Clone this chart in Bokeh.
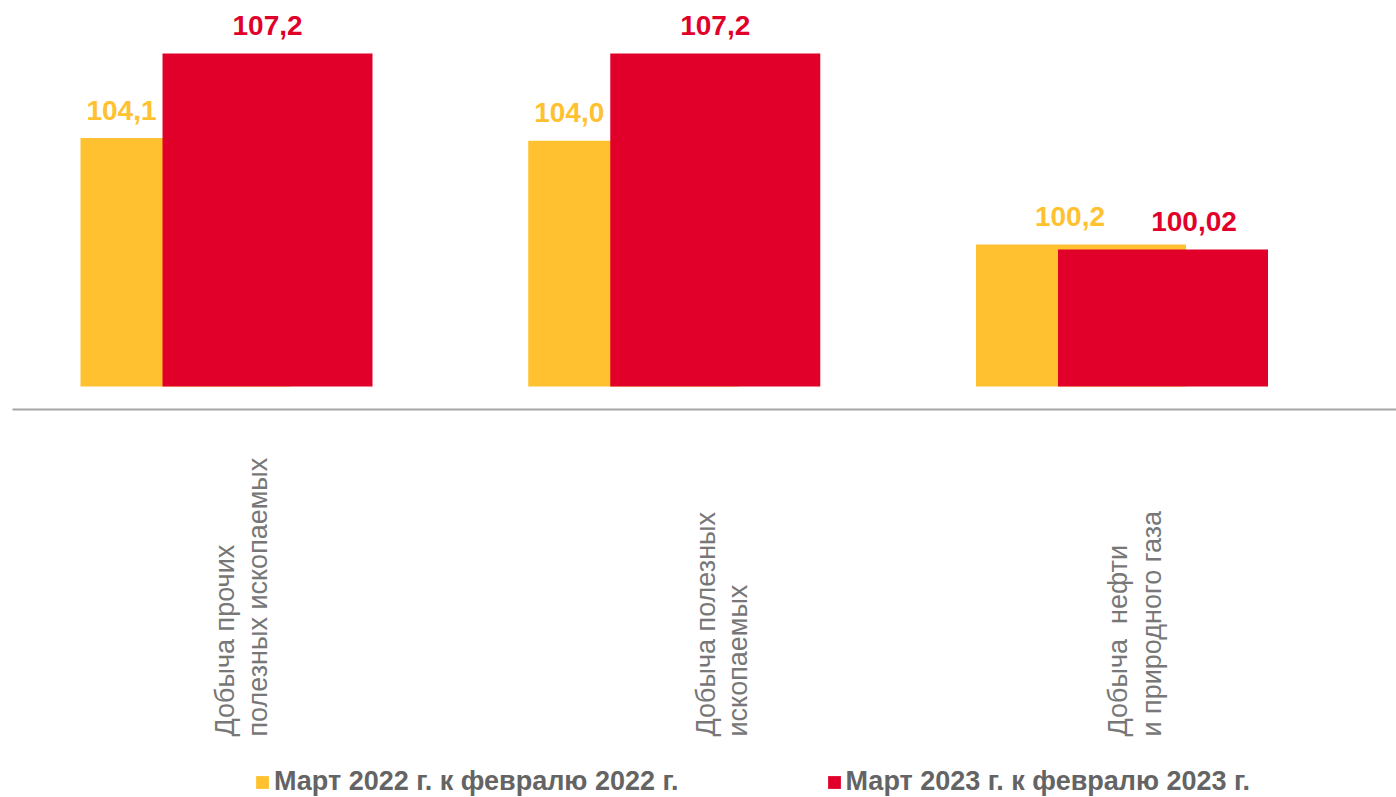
import numpy as np
from bokeh.plotting import figure
from bokeh.models import ColumnDataSource, Legend, LegendItem, Range1d
from bokeh.core.properties import value
from bokeh.embed import file_html
from bokeh.resources import INLINE

# ---------------- data ----------------
categories = [
    "Добыча прочих\nполезных ископаемых",
    "Добыча полезных\nископаемых",
    "Добыча\u00a0 нефти\nи природного газа",
]
series_names = ["Март 2022 г. к февралю 2022 г.", "Март 2023 г. к февралю 2023 г."]
values_2022 = [104.1, 104.0, 100.2]
values_2023 = [107.2, 107.2, 100.02]
labels_2022 = ["104,1", "104,0", "100,2"]
labels_2023 = ["107,2", "107,2", "100,02"]
value_axis_min = 95.0

# ---------------- style / layout ----------------
YELLOW = "#FFC12F"
RED = "#E1002A"
CAT_COLOR = "#777777"
LEG_COLOR = "#646464"
FONT = "Liberation Sans"

W, H = 1396, 797
X0, X1 = -0.50475, 2.61307
Y0, Y1 = 79.945, 109.139
bar_width = 0.469
bar_shift = 0.0916
lab_dx_2022 = [-64, -64, -11]      # px offsets of value labels
lab_dx_2023 = [0, 0, 31]
cat_line_dx = [[-2, 31], [31.5, 63.5], [-3.5, 30.5]]   # px offsets for label lines
cat_drop = 350                     # px below bar base

idx = np.arange(len(categories))

p = figure(width=W, height=H, x_range=Range1d(X0, X1),
           y_range=Range1d(Y0, Y1), toolbar_location=None,
           output_backend="svg", x_axis_location=None, y_axis_location=None,
           min_border=0, outline_line_color=None)
p.grid.grid_line_color = None
p.background_fill_color = "white"

r1 = p.vbar(x=idx - bar_shift, top=values_2022, bottom=value_axis_min,
            width=bar_width, fill_color=YELLOW, line_color=None)
r2 = p.vbar(x=idx + bar_shift, top=values_2023, bottom=value_axis_min,
            width=bar_width, fill_color=RED, line_color=None)

# category axis line (sits a little below the value-axis minimum)
axis_y = value_axis_min - 0.84
p.segment(x0=[X0 + 12 / 447.75], x1=[X1], y0=[axis_y], y1=[axis_y],
          line_color="#a6a6a6", line_width=2)

# value labels
src1 = ColumnDataSource(dict(x=idx - bar_shift, y=values_2022, t=labels_2022, dx=lab_dx_2022))
src2 = ColumnDataSource(dict(x=idx + bar_shift, y=values_2023, t=labels_2023, dx=lab_dx_2023))
for src, col in ((src1, YELLOW), (src2, RED)):
    p.text(x="x", y="y", text="t", x_offset="dx", y_offset=-28, source=src,
           text_align="center", text_baseline="alphabetic",
           text_font=value(FONT), text_font_style="bold",
           text_font_size="28px", text_color=col)

# category labels (rotated)
cx, ct, cdx = [], [], []
for i, c in enumerate(categories):
    for j, line in enumerate(c.split("\n")):
        cx.append(idx[i])
        ct.append(line)
        cdx.append(cat_line_dx[i][j])
src3 = ColumnDataSource(dict(x=cx, y=[value_axis_min] * len(cx), t=ct, dx=cdx))
p.text(x="x", y="y", text="t", x_offset="dx", y_offset=cat_drop, source=src3,
       angle=np.pi / 2, text_align="left", text_baseline="alphabetic",
       text_font=value(FONT), text_font_size="27px", text_color=CAT_COLOR)

legend = Legend(items=[LegendItem(label=series_names[0], renderers=[r1]),
                       LegendItem(label=series_names[1], renderers=[r2])],
                orientation="horizontal", location=(254, 0),
                glyph_width=16, glyph_height=16, label_standoff=4, spacing=147,
                padding=0, margin=0, border_line_color=None,
                background_fill_alpha=0,
                label_text_font=FONT, label_text_font_style="bold",
                label_text_font_size="27px", label_text_color=LEG_COLOR)
p.add_layout(legend)

open("out.html", "w").write(file_html(p, INLINE))
